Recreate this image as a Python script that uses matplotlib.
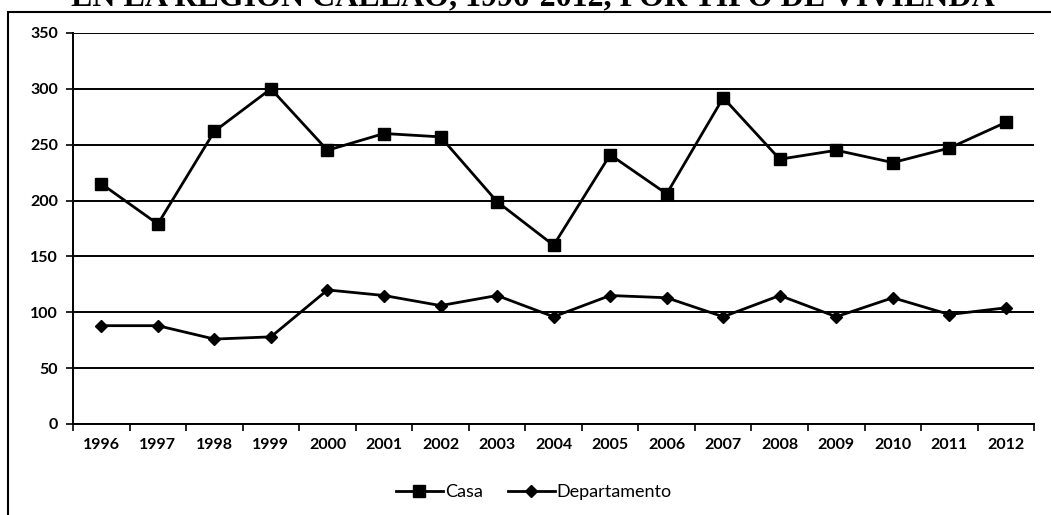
import matplotlib.pyplot as plt
from matplotlib.patches import Rectangle
from matplotlib.ticker import FixedLocator

# data
years = ["1996", "1997", "1998", "1999", "2000", "2001", "2002", "2003", "2004",
         "2005", "2006", "2007", "2008", "2009", "2010", "2011", "2012"]
casa = [215, 179, 262, 300, 245, 260, 257, 199, 160, 241, 206, 292, 237, 245, 234, 247, 270]
departamento = [88, 88, 76, 78, 120, 115, 106, 115, 96, 115, 113, 96, 115, 96, 113, 98, 104]
yticks = [0, 50, 100, 150, 200, 250, 300, 350]

title = "EN LA REGIÓN CALLAO, 1996-2012, POR TIPO DE VIVIENDA"

fig = plt.figure(figsize=(10.51, 5.15), dpi=100)
ax = fig.add_axes([0.0695, 0.1767, 0.9145, 0.7593])

x = list(range(len(years)))
ax.plot(x, casa, color="black", lw=2, marker="s", ms=8.5, label="Casa")
ax.plot(x, departamento, color="black", lw=2, marker="D", ms=6.5, label="Departamento")

ax.set_xlim(-0.5, len(years) - 0.5)
ax.set_ylim(0, 350)
ax.set_yticks(yticks)
ax.set_xticks(x)
ax.set_xticklabels(years)
ax.xaxis.set_minor_locator(FixedLocator([i - 0.5 for i in range(len(years) + 1)]))
ax.tick_params(axis="x", which="major", length=0, pad=10)
ax.tick_params(axis="x", which="minor", length=5, width=1.2, direction="out")
ax.tick_params(axis="y", length=5, width=1.2, pad=6)
for lab in ax.get_xticklabels() + ax.get_yticklabels():
    lab.set_fontfamily("Lato")
    lab.set_fontweight("bold")
    lab.set_fontsize(11.5)

ax.grid(axis="y", color="black", lw=1.4)
ax.set_axisbelow(True)
for s in ["top", "right"]:
    ax.spines[s].set_visible(False)
for s in ["left", "bottom"]:
    ax.spines[s].set_linewidth(1.4)

leg = fig.legend(loc="center", bbox_to_anchor=(0.508, 0.045), ncol=2, frameon=False,
                 handlelength=2.6, handletextpad=0.1, columnspacing=1.4,
                 prop={"family": "Lato", "size": 13})

# outer chart box, cut at right and bottom
fig.patches.append(Rectangle((8 / 1051, -0.1), 1.2, 1 - 12 / 515 + 0.1,
                             transform=fig.transFigure, fill=False,
                             edgecolor="black", lw=1.5))

# title clipped at the top of the image, as in the scan
fig.text(0.507, 1 - 6 / 515, title, ha="center", va="baseline",
         fontfamily="Liberation Serif", fontweight="bold", fontsize=23)

fig.savefig("out.png", dpi=100)
